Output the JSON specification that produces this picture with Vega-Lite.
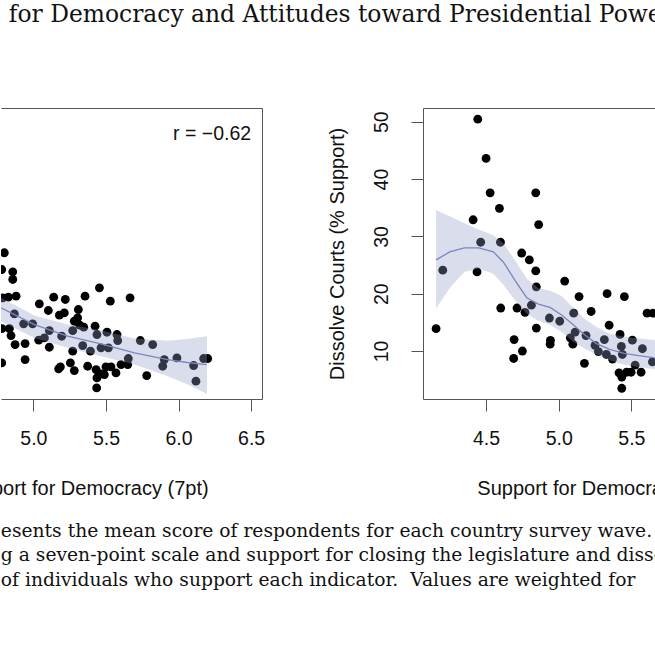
{
 "$schema": "https://vega.github.io/schema/vega-lite/v6.json",
 "background": "white",
 "padding": {"left": -45, "top": 2, "right": 0, "bottom": 0},
 "config": {
  "view": {"stroke": null},
  "font": "Liberation Sans",
  "axis": {"domainColor": "#555", "tickColor": "#555", "labelColor": "#111", "titleColor": "#111", "labelFont": "Liberation Sans", "titleFont": "Liberation Sans", "labelFontSize": 19.5, "titleFontSize": 20, "titleFontWeight": "normal", "grid": false, "tickSize": 12, "domainWidth": 1, "tickWidth": 1, "labelFlush": false}
 },
 "datasets": {
  "leftPts": [
   {"support":4.800,"congress":27.14},{"support":4.782,"congress":24.22},{"support":4.858,"congress":23.82},{"support":4.858,"congress":22.48},{"support":4.789,"congress":19.28},{"support":4.828,"congress":19.39},{"support":4.881,"congress":19.57},{"support":4.869,"congress":16.48},{"support":4.784,"congress":13.92},{"support":4.835,"congress":13.92},{"support":4.846,"congress":12.70},{"support":4.874,"congress":11.13},{"support":4.943,"congress":11.30},{"support":4.943,"congress":8.51},{"support":4.782,"congress":7.93},{"support":4.933,"congress":14.74},{"support":4.995,"congress":14.74},{"support":5.041,"congress":18.23},{"support":5.103,"congress":17.07},{"support":5.140,"congress":19.39},{"support":5.220,"congress":18.99},{"support":5.179,"congress":16.25},{"support":5.213,"congress":16.66},{"support":5.037,"congress":11.89},{"support":5.076,"congress":12.29},{"support":5.110,"congress":13.57},{"support":5.110,"congress":10.66},{"support":5.195,"congress":12.58},{"support":5.356,"congress":19.57},{"support":5.455,"congress":21.02},{"support":5.530,"congress":18.70},{"support":5.666,"congress":19.28},{"support":5.310,"congress":17.24},{"support":5.305,"congress":15.79},{"support":5.282,"congress":15.20},{"support":5.319,"congress":14.51},{"support":5.271,"congress":13.57},{"support":5.347,"congress":14.16},{"support":5.425,"congress":14.33},{"support":5.438,"congress":12.88},{"support":5.507,"congress":13.28},{"support":5.576,"congress":12.88},{"support":5.581,"congress":11.83},{"support":5.340,"congress":10.95},{"support":5.271,"congress":9.97},{"support":5.393,"congress":9.97},{"support":5.466,"congress":10.55},{"support":5.517,"congress":10.55},{"support":5.186,"congress":7.24},{"support":5.174,"congress":6.90},{"support":5.255,"congress":7.93},{"support":5.282,"congress":6.59},{"support":5.374,"congress":7.35},{"support":5.432,"congress":6.76},{"support":5.438,"congress":5.31},{"support":5.466,"congress":6.01},{"support":5.500,"congress":7.24},{"support":5.535,"congress":7.24},{"support":5.569,"congress":6.18},{"support":5.489,"congress":5.89},{"support":5.604,"congress":7.64},{"support":5.650,"congress":7.64},{"support":5.654,"congress":8.69},{"support":5.436,"congress":3.56},{"support":5.737,"congress":11.83},{"support":5.822,"congress":11.13},{"support":5.902,"congress":8.51},{"support":5.891,"congress":7.35},{"support":5.989,"congress":8.80},{"support":5.781,"congress":5.72},{"support":6.104,"congress":7.47},{"support":6.120,"congress":4.74},{"support":6.173,"congress":8.69},{"support":6.201,"congress":8.69}
  ],
  "leftFit": [
   {"support":4.777,"lo":15.2,"fit":17.53,"hi":19.28},
   {"support":5.007,"lo":12.29,"fit":14.62,"hi":16.19},
   {"support":5.236,"lo":10.55,"fit":12.58,"hi":14.62},
   {"support":5.466,"lo":9.09,"fit":11.25,"hi":13.63},
   {"support":5.696,"lo":7.64,"fit":9.67,"hi":12.2},
   {"support":5.925,"lo":5.6,"fit":8.51,"hi":11.8},
   {"support":6.06,"lo":4.2,"fit":8.0,"hi":12.1},
   {"support":6.196,"lo":2.52,"fit":7.64,"hi":12.58}
  ],
  "rightPts": [
   {"support":4.156,"courts":13.9},{"support":4.202,"courts":24.1},{"support":4.443,"courts":50.45},{"support":4.411,"courts":32.9},{"support":4.463,"courts":28.98},{"support":4.438,"courts":23.8},{"support":4.5,"courts":43.6},{"support":4.528,"courts":37.6},{"support":4.592,"courts":34.9},{"support":4.599,"courts":28.98},{"support":4.601,"courts":17.5},{"support":4.693,"courts":12.0},{"support":4.69,"courts":8.7},{"support":4.75,"courts":10.0},{"support":4.713,"courts":17.5},{"support":4.768,"courts":16.75},{"support":4.745,"courts":27.1},{"support":4.798,"courts":25.9},{"support":4.842,"courts":37.6},{"support":4.862,"courts":32.06},{"support":4.842,"courts":23.97},{"support":4.846,"courts":21.2},{"support":4.812,"courts":18.0},{"support":4.846,"courts":14.0},{"support":4.936,"courts":15.76},{"support":4.943,"courts":11.86},{"support":4.941,"courts":11.2},{"support":5.007,"courts":15.2},{"support":5.041,"courts":22.2},{"support":5.103,"courts":16.6},{"support":5.08,"courts":12.3},{"support":5.097,"courts":11.2},{"support":5.113,"courts":13.3},{"support":5.14,"courts":19.5},{"support":5.177,"courts":7.85},{"support":5.188,"courts":12.7},{"support":5.223,"courts":16.9},{"support":5.25,"courts":11.0},{"support":5.273,"courts":9.9},{"support":5.314,"courts":12.0},{"support":5.333,"courts":20.0},{"support":5.347,"courts":14.5},{"support":5.328,"courts":9.4},{"support":5.37,"courts":8.6},{"support":5.422,"courts":12.9},{"support":5.452,"courts":19.5},{"support":5.431,"courts":10.8},{"support":5.438,"courts":9.4},{"support":5.415,"courts":6.2},{"support":5.434,"courts":5.46},{"support":5.434,"courts":3.5},{"support":5.468,"courts":6.3},{"support":5.498,"courts":6.3},{"support":5.507,"courts":11.9},{"support":5.526,"courts":7.55},{"support":5.567,"courts":6.3},{"support":5.576,"courts":10.4},{"support":5.608,"courts":16.6},{"support":5.649,"courts":16.6},{"support":5.645,"courts":8.1}
  ],
  "rightFit": [
   {"support":4.156,"lo":17.4,"fit":25.9,"hi":34.6},
   {"support":4.25,"lo":21.0,"fit":27.3,"hi":33.5},
   {"support":4.35,"lo":23.8,"fit":28.0,"hi":32.3},
   {"support":4.45,"lo":24.4,"fit":28.0,"hi":31.2},
   {"support":4.55,"lo":23.5,"fit":27.3,"hi":30.2},
   {"support":4.62,"lo":21.5,"fit":25.5,"hi":28.8},
   {"support":4.70,"lo":18.8,"fit":22.3,"hi":25.8},
   {"support":4.78,"lo":16.5,"fit":19.3,"hi":22.6},
   {"support":4.86,"lo":15.3,"fit":18.2,"hi":21.0},
   {"support":4.94,"lo":14.6,"fit":17.6,"hi":20.5},
   {"support":5.02,"lo":13.3,"fit":16.3,"hi":19.6},
   {"support":5.10,"lo":11.6,"fit":14.6,"hi":17.6},
   {"support":5.18,"lo":10.4,"fit":12.8,"hi":15.6},
   {"support":5.26,"lo":9.4,"fit":11.3,"hi":14.2},
   {"support":5.35,"lo":8.4,"fit":10.3,"hi":13.0},
   {"support":5.45,"lo":7.6,"fit":9.6,"hi":12.5},
   {"support":5.55,"lo":7.2,"fit":9.2,"hi":12.2},
   {"support":5.667,"lo":6.8,"fit":8.8,"hi":11.9}
  ],
  "note": [{"support":6.5,"congress":47.85,"label":"r = −0.62"}]
 },
 "title": {"text": "for Democracy and Attitudes toward Presidential Power", "anchor": "start", "dx": 53, "font": "DejaVu Serif", "fontSize": 23.4, "fontWeight": "normal", "color": "#111", "offset": 81},
 "vconcat": [
  {
   "bounds": "flush",
   "spacing": 161,
   "title": {"text": ["esents the mean score of respondents for each country survey wave.", "g a seven-point scale and support for closing the legislature and dissolving", "\u00a0\u00a0of individuals who support each indicator.\u00a0 Values are weighted for"], "orient": "bottom", "anchor": "start", "dx": 45, "font": "DejaVu Serif", "fontSize": 18.7, "fontWeight": "normal", "lineHeight": 24.5, "color": "#111", "offset": 23},
   "hconcat": [
    {
     "width": 261, "height": 291,
     "layer": [
      {"data": {"name": "leftPts"}, "mark": {"type": "circle", "size": 78, "opacity": 1, "color": "black", "clip": true},
       "encoding": {
        "x": {"field": "support", "type": "quantitative", "scale": {"domain": [4.777, 6.575], "nice": false, "zero": false}, "axis": {"orient": "bottom", "values": [5, 5.5, 6, 6.5], "format": ".1f", "title": "Support for Democracy (7pt)", "labelPadding": 18, "titlePadding": 31, "titleX": 81}},
        "y": {"field": "congress", "type": "quantitative", "scale": {"domain": [1.63, 52.4], "nice": false, "zero": false}, "axis": {"orient": "right", "labels": false, "ticks": false, "title": null}}
       }},
      {"data": {"name": "leftFit"}, "mark": {"type": "area", "color": "#939CC5", "opacity": 0.34, "clip": true},
       "encoding": {
        "x": {"field": "support", "type": "quantitative", "axis": {"orient": "top", "labels": false, "ticks": false, "title": null}},
        "y": {"field": "lo", "type": "quantitative", "axis": null},
        "y2": {"field": "hi"}
       }},
      {"data": {"name": "leftFit"}, "mark": {"type": "line", "color": "#7B86C0", "strokeWidth": 1.3, "clip": true},
       "encoding": {
        "x": {"field": "support", "type": "quantitative", "axis": null},
        "y": {"field": "fit", "type": "quantitative", "axis": null}
       }},
      {"data": {"name": "note"}, "mark": {"type": "text", "align": "right", "baseline": "middle", "fontSize": 19.5, "font": "Liberation Sans", "color": "#111"},
       "encoding": {
        "x": {"field": "support", "type": "quantitative", "axis": null},
        "y": {"field": "congress", "type": "quantitative", "axis": null},
        "text": {"field": "label"}
       }}
     ],
     "resolve": {"axis": {"x": "independent", "y": "independent"}}
    },
    {
     "width": 348, "height": 291,
     "layer": [
      {"data": {"name": "rightPts"}, "mark": {"type": "circle", "size": 78, "opacity": 1, "color": "black", "clip": true},
       "encoding": {
        "x": {"field": "support", "type": "quantitative", "scale": {"domain": [4.066, 6.461], "nice": false, "zero": false}, "axis": {"orient": "bottom", "values": [4.5, 5, 5.5, 6], "format": ".1f", "title": "Support for Democracy (7pt)", "labelPadding": 18, "titlePadding": 31, "titleX": 180}},
        "y": {"field": "courts", "type": "quantitative", "scale": {"domain": [1.63, 52.4], "nice": false, "zero": false}, "axis": {"orient": "left", "values": [10, 20, 30, 40, 50], "labelAngle": 270, "labelPadding": 20, "title": "Dissolve Courts (% Support)", "titlePadding": 24}}
       }},
      {"data": {"name": "rightFit"}, "mark": {"type": "area", "color": "#939CC5", "opacity": 0.34, "clip": true},
       "encoding": {
        "x": {"field": "support", "type": "quantitative", "axis": {"orient": "top", "labels": false, "ticks": false, "title": null}},
        "y": {"field": "lo", "type": "quantitative", "axis": {"orient": "right", "labels": false, "ticks": false, "title": null}},
        "y2": {"field": "hi"}
       }},
      {"data": {"name": "rightFit"}, "mark": {"type": "line", "color": "#7B86C0", "strokeWidth": 1.3, "clip": true},
       "encoding": {
        "x": {"field": "support", "type": "quantitative", "axis": null},
        "y": {"field": "fit", "type": "quantitative", "axis": null}
       }}
     ],
     "resolve": {"axis": {"x": "independent", "y": "independent"}}
    }
   ]
  }
 ]
}
